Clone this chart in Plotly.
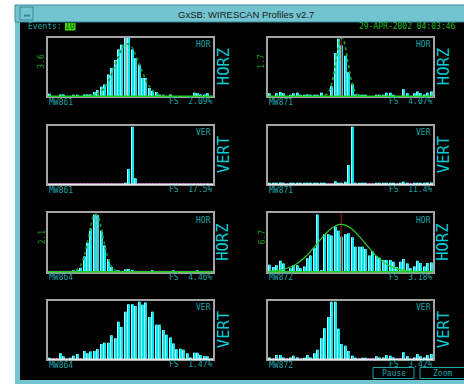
import plotly.graph_objects as go

W, H = 464, 384

# ---------------- data (% of full scale) ----------------
bins = list(range(48))

mw861_hor = [4,0,0,3,3,0,0,2,2,0, 3,3,3,7,10,16,20,37,48,62, 80,88,100,100,80,65,54,31,31,14,
             9,7,3,2,0,3,0,0,0,0, 0,0,6,5,3,3,5,0]
mw871_hor = [5,0,5,7,5,0,2,5,6,2, 2,3,2,2,2,6,0,0,17,74, 98,87,69,41,21,3,2,2,2,0,
             0,2,2,2,6,6,2,0,0,12, 5,0,5,8,5,3,6,8]
mw861_ver = [0,0,0,0,0,0,0,0,0,0, 0,0,0,0,0,0,0,0,0,0, 0,0,2,26,98,10,0,0,0,0,
             0,0,0,0,0,0,0,0,0,0, 0,0,0,0,0,0,0,0]
mw871_ver = [2,1,1,3,1,0,1,1,2,1, 1,1,1,1,1,1,1,0,0,5, 1,1,4,33,98,1,1,1,1,0,
             0,1,1,1,1,1,1,0,1,4, 1,0,1,2,1,1,3,3]
mw864_hor = [0,0,0,0,0,0,0,2,3,7, 26,50,74,98,97,70,45,22,8,2, 1,0,4,5,2,0,0,0,0,0,
             2,0,0,0,0,0,1,0,0,0, 0,0,0,2,0,0,0,0]
mw872_hor = [12,8,11,19,14,0,6,11,11,6, 9,23,28,41,98,1,64,64,62,77, 70,60,64,66,59,43,43,43,39,28,
             35,27,24,20,20,20,17,8,17,22, 14,6,9,19,15,9,15,16]
mw864_ver = [1,0,0,10,5,0,2,6,9,0, 14,10,13,14,17,26,28,28,41,36, 64,55,81,94,94,91,98,93,97,72,
             81,59,59,50,42,37,27,17,18,16, 10,3,11,11,7,5,5,0]
mw872_ver = [3,0,7,7,3,0,3,6,3,0, 1,7,3,10,16,36,53,72,98,98, 52,26,23,14,6,1,0,2,2,0,
             0,5,3,3,7,6,3,0,0,12, 5,0,3,9,5,3,7,9]

# Gaussian fit curves
fit_861_x = [12,13,14,15,16,17,18,19,20,21,22,23,24,25,26,27,28,29,30,31,32,33,34]
fit_861_y = [0.9,2.1,4.4,8.5,15,25,38,53,68,81,89,89,83,71,56,41,27,17,10,5,2.5,1.1,0.5]
fit_871_x = [16,16.5,17,17.5,18,18.5,19,19.5,20,20.5,21,21.5,22,22.5,23,23.5,24,24.5,25,25.5,26]
fit_871_y = [1.3,3,6,12,21,34,50,68,84,96,100,96,84,68,50,34,21,12,6,3,1.3]
fit_864_x = [6,7,8,9,10,11,12,13,14,15,16,17,18,19,20,21]
fit_864_y = [0.2,1,4,11,27,52,80,98,96,75,46,23,9,3,0.7,0.1]
fit_872_x = [0,2,4,6,8,10,12,14,16,18,20,22,24,26,28,30,32,34,36,38,40,42,44]
fit_872_y = [0.9,2,4.2,8.1,14.4,23.6,35.8,49.7,63.5,74.6,80.5,79.8,72.7,60.9,47,33.2,21.6,13,7.1,3.6,1.7,0.7,0.3]

names = ["MW861", "MW871", "MW861", "MW871", "MW864", "MW872", "MW864", "MW872"]
planes = ["HOR", "HOR", "VER", "VER", "HOR", "HOR", "VER", "VER"]
big_labels = ["HORZ", "HORZ", "VERT", "VERT", "HORZ", "HORZ", "VERT", "VERT"]
fs_labels = ["FS  2.09%", "FS  4.07%", "FS  17.5%", "FS  11.4%",
             "FS  4.46%", "FS  3.18%", "FS  1.47%", "FS  3.42%"]
scale_labels = ["3.6", "1.7", "", "", "2.1", "6.7", "", ""]
mean_pos = [22.4, 20.8, None, None, 13.5, 20.8, None, None]
profiles = [mw861_hor, mw871_hor, mw861_ver, mw871_ver, mw864_hor, mw872_hor, mw864_ver, mw872_ver]
fits = {0: (fit_861_x, fit_861_y), 1: (fit_871_x, fit_871_y),
        4: (fit_864_x, fit_864_y), 5: (fit_872_x, fit_872_y)}
event_count = "10"
timestamp = "29-APR-2002 04:03:46"
window_title = "GxSB: WIRESCAN Profiles v2.7"

# ---------------- styling / geometry ----------------
MONO = "DejaVu Sans Mono"
SANS = "Liberation Sans"
TEAL = "#1ea4a6"
CYAN_BIG = "#00cdd8"
GREEN_LBL = "#1f9e1f"
BAR = "#08e4ee"
BAR_EDGE = "#a8fcff"
FRAME = "#72c4d0"
FRAME_DARK = "#3a8a96"

col_left = [48, 268]
row_top = [37.7, 125.7, 213.3, 300.7]
box_w, box_h = 165, 58.5

fit_style = {0: dict(color="#1b8f1b", dash="dot", width=1.6),
             1: dict(color="#22aa22", dash="dot", width=1.6),
             4: dict(color="#1b8f1b", dash="dot", width=1.6),
             5: dict(color="#2ccc2c", dash="solid", width=1.2)}
mean_color = {0: "#b8b8b8", 1: "#8a1c1c", 4: "#9a9a9a", 5: "#8a1c1c"}
baseline_color = ["#22cc22", "#22cc22", "#e8e8e8", "#e8e8e8", "#22cc22", "#22cc22", "#e8e8e8", "#e8e8e8"]
mark_zeros = [False, False, True, True, True, True, True, True]


def px(x):
    return x / W


def py(y):
    return 1 - y / H


def ann(text, x, y, size, color, xanchor="center", yanchor="middle", angle=0, family=MONO):
    return dict(text=text, x=px(x), y=py(y), xref="paper", yref="paper", showarrow=False,
                font=dict(size=size, color=color, family=family),
                xanchor=xanchor, yanchor=yanchor, textangle=angle, borderpad=0)


fig = go.Figure()
layout = dict(width=W, height=H, margin=dict(l=0, r=0, t=0, b=0), autosize=False,
              paper_bgcolor="white", plot_bgcolor="rgba(0,0,0,0)", showlegend=False,
              barmode="overlay")
shapes = []
annotations = []

# window frame
shapes.append(dict(type="rect", xref="paper", yref="paper", x0=px(20), x1=px(464), y0=py(380), y1=py(22),
                   fillcolor="black", line=dict(width=0), layer="below"))
shapes.append(dict(type="rect", xref="paper", yref="paper", x0=px(15), x1=px(20), y0=py(384), y1=py(22),
                   fillcolor=FRAME, line=dict(width=0), layer="below"))
shapes.append(dict(type="rect", xref="paper", yref="paper", x0=px(15), x1=px(464), y0=py(384), y1=py(380),
                   fillcolor=FRAME, line=dict(width=0), layer="below"))
shapes.append(dict(type="rect", xref="paper", yref="paper", x0=px(15), x1=px(470), y0=py(22), y1=py(5),
                   fillcolor=FRAME, line=dict(width=1, color=FRAME_DARK), layer="below"))
shapes.append(dict(type="rect", xref="paper", yref="paper", x0=px(20), x1=px(33), y0=py(20), y1=py(7),
                   fillcolor=FRAME, line=dict(width=1, color=FRAME_DARK), layer="below"))
shapes.append(dict(type="line", xref="paper", yref="paper", x0=px(24), x1=px(30), y0=py(15.5), y1=py(15.5),
                   line=dict(width=2, color=FRAME_DARK), layer="below"))
annotations.append(ann(window_title, 246, 14, 9.5, "#1a1a1a", family=SANS))

# events / timestamp
annotations.append(ann("Events:", 27, 26.8, 8, TEAL, xanchor="left"))
shapes.append(dict(type="rect", xref="paper", yref="paper", x0=px(65), x1=px(75.5), y0=py(30.5), y1=py(23),
                   fillcolor="#44dd00", line=dict(width=0), layer="below"))
annotations.append(ann(event_count, 70.3, 26.8, 8, "#0f4f0f"))
annotations.append(ann(timestamp, 457, 26.8, 8, "#22bb22", xanchor="right"))

for k in range(8):
    r, c = k // 2, k % 2
    L = col_left[c]
    T = row_top[r]
    R = L + box_w
    B = T + box_h
    ax = "" if k == 0 else str(k + 1)
    layout["xaxis" + ax] = dict(domain=[px(L), px(R)], range=[-0.5, 47.5], anchor="y" + ax,
                                showline=True, mirror=True, linecolor="#a4a4a4", linewidth=1.5,
                                showgrid=False, zeroline=False, showticklabels=False, ticks="",
                                fixedrange=True)
    layout["yaxis" + ax] = dict(domain=[py(B), py(T)], range=[0, 100], anchor="x" + ax,
                                showline=True, mirror=True, linecolor="#a4a4a4", linewidth=1.5,
                                showgrid=False, zeroline=False, showticklabels=False, ticks="",
                                fixedrange=True)
    vals = profiles[k]
    # pale left edge + cyan body, like the original bitmap bars
    fig.add_trace(go.Bar(x=bins, y=vals, xaxis="x" + ax, yaxis="y" + ax, width=0.3, offset=-0.3,
                         marker=dict(color=BAR_EDGE, line=dict(width=0)), hoverinfo="skip"))
    fig.add_trace(go.Bar(x=bins, y=vals, xaxis="x" + ax, yaxis="y" + ax, width=0.3, offset=0.0,
                         marker=dict(color=BAR, line=dict(width=0)), hoverinfo="skip"))
    if mean_pos[k] is not None:
        fig.add_trace(go.Scatter(x=[mean_pos[k], mean_pos[k]], y=[0, 100], xaxis="x" + ax, yaxis="y" + ax,
                                 mode="lines", line=dict(color=mean_color[k], width=1.2), hoverinfo="skip"))
    if k in fits:
        fx, fy = fits[k]
        fig.add_trace(go.Scatter(x=fx, y=fy, xaxis="x" + ax, yaxis="y" + ax, mode="lines",
                                 line=dict(shape="spline", **fit_style[k]), hoverinfo="skip"))
    # baseline
    shapes.append(dict(type="line", xref="paper", yref="paper", x0=px(L), x1=px(R), y0=py(B), y1=py(B),
                       line=dict(width=1.5, color=baseline_color[k])))
    if mark_zeros[k]:
        zx = [i for i, v in zip(bins, vals) if v == 0]
        fig.add_trace(go.Scatter(x=zx, y=[0] * len(zx), xaxis="x" + ax, yaxis="y" + ax, mode="markers",
                                 marker=dict(symbol="square", size=2.2, color="#d020d0", line=dict(width=0)),
                                 cliponaxis=False, hoverinfo="skip"))
    # labels
    annotations.append(ann(planes[k], R - 1.5, T + 1.5, 8, TEAL, xanchor="right", yanchor="top"))
    annotations.append(ann(names[k], L - 0.5, B + 6, 8, TEAL, xanchor="left"))
    annotations.append(ann(fs_labels[k], R + 1, B + 5.5, 8, TEAL, xanchor="right"))
    if scale_labels[k]:
        annotations.append(ann(scale_labels[k], L - 6, T + 24, 8, GREEN_LBL, angle=-90))
    annotations.append(ann(big_labels[k], R + 10.5, T + 29, 15.5, CYAN_BIG, angle=-90))

# buttons
shapes.append(dict(type="rect", xref="paper", yref="paper", x0=px(373), x1=px(414), y0=py(378.5), y1=py(367.5),
                   line=dict(width=1, color=TEAL), fillcolor="rgba(0,0,0,0)"))
shapes.append(dict(type="rect", xref="paper", yref="paper", x0=px(420), x1=px(470), y0=py(378.5), y1=py(367.5),
                   line=dict(width=1, color=TEAL), fillcolor="rgba(0,0,0,0)"))
annotations.append(ann("Pause", 393.5, 373.5, 8, TEAL))
annotations.append(ann("Zoom", 442, 373.5, 8, TEAL))

layout["shapes"] = shapes
layout["annotations"] = annotations
fig.update_layout(**layout)
fig.write_html("out.html", config={"displayModeBar": False},
               post_script="document.body.style.margin='0';document.body.style.overflow='hidden';")
